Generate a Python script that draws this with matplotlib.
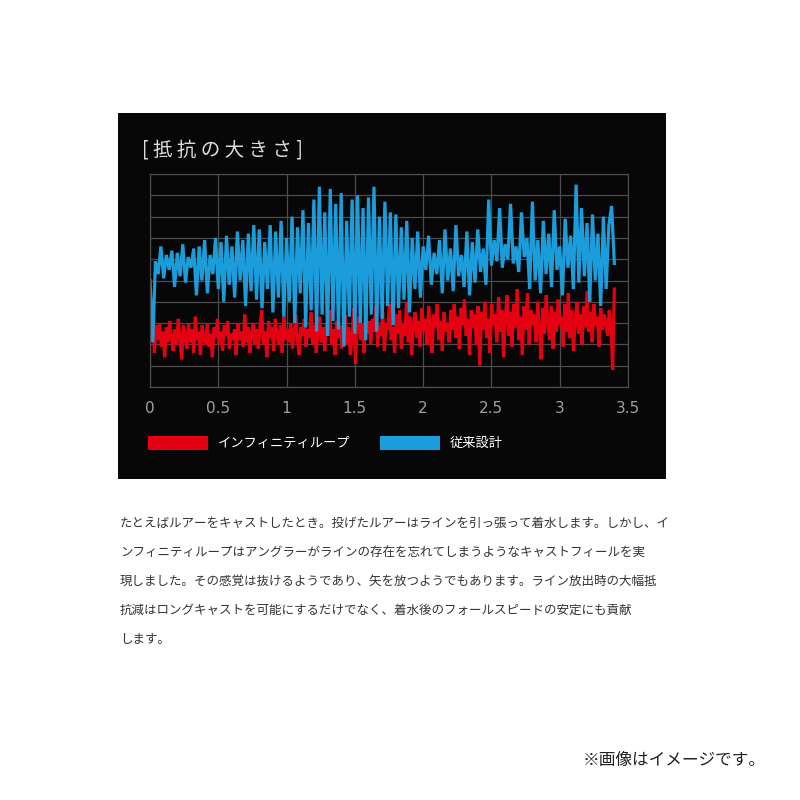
import matplotlib.pyplot as plt
import matplotlib.patches as mpatches
import numpy as np

plt.rcParams['font.family'] = ['Noto Sans CJK JP', 'DejaVu Sans']

# 従来設計 (blue), sampled every 0.02 from 0 to 3.4
blue = [
    5.0, 2.1, 5.9, 5.3, 6.6, 5.1, 6.2, 5.5, 6.4, 4.7,
    6.3, 5.2, 6.7, 4.9, 6.1, 5.6, 6.5, 4.3, 6.6, 5.0,
    6.9, 4.4, 6.2, 5.3, 7.0, 4.6, 6.8, 4.0, 7.1, 4.8,
    6.6, 4.2, 7.3, 5.0, 6.9, 3.8, 7.2, 4.5, 7.6, 4.1,
    7.4, 3.7, 6.8, 4.6, 7.6, 3.5, 7.3, 4.2, 7.8, 3.3,
    7.0, 4.0, 8.0, 3.0, 7.5, 4.4, 8.3, 2.8, 7.7, 3.6,
    8.8, 2.6, 9.4, 3.4, 8.2, 2.4, 9.3, 3.1, 8.6, 2.7,
    9.1, 1.9, 7.8, 3.3, 8.8, 2.5, 9.0, 3.0, 8.4, 2.2,
    8.9, 3.4, 9.4, 2.6, 8.0, 3.2, 8.7, 3.8, 8.2, 2.9,
    8.1, 3.7, 7.5, 4.1, 7.8, 3.5, 7.0, 4.6, 7.3, 4.2,
    6.6, 5.5, 7.1, 4.8, 6.3, 5.3, 6.9, 4.4, 7.4, 5.0,
    6.5, 4.5, 7.6, 5.2, 6.2, 4.7, 7.3, 4.3, 6.8, 4.9,
    7.4, 5.4, 6.5, 4.8, 8.8, 5.7, 6.9, 5.9, 8.4, 5.6,
    6.7, 6.0, 8.6, 5.8, 6.6, 5.4, 8.2, 6.1, 7.0, 4.6,
    8.7, 5.0, 6.9, 4.4, 7.8, 5.3, 7.2, 4.7, 8.3, 5.5,
    6.6, 4.3, 7.9, 5.6, 7.1, 4.6, 9.5, 4.9, 8.4, 5.2,
    7.7, 4.0, 8.1, 5.0, 7.2, 3.8, 8.0, 4.6, 7.6, 8.5,
    5.8,
]

# インフィニティループ (red), sampled from 0.02 to 3.4
red = [
    3.3, 1.6, 2.9, 2.2, 3.0, 1.9, 2.6, 1.4, 2.8, 2.1, 3.1, 2.3, 1.7, 2.7, 2.0, 3.2,
    2.2, 1.3, 2.9, 2.5, 1.8, 3.0, 2.1, 2.7, 1.6, 3.3, 2.2, 2.6, 1.5, 2.9, 2.3, 2.0,
    3.0, 1.9, 2.5, 1.4, 2.8, 2.3, 3.2, 2.0, 2.6, 1.7, 2.9, 2.4, 3.1, 1.8, 2.5, 2.2,
    2.7, 1.5, 3.0, 2.2, 2.6, 1.9, 3.4, 2.1, 2.8, 1.6, 2.5, 3.0, 2.0, 2.7, 1.8, 2.9,
    3.6, 2.0, 2.6, 1.4, 3.1, 2.3, 2.8, 1.7, 3.2, 2.4, 2.0, 2.9, 1.6, 3.3, 2.2, 2.7,
    2.1, 3.0, 1.8, 2.6, 3.4, 2.2, 1.5, 2.8, 2.4, 3.2, 1.9, 2.7, 2.3, 3.5, 2.0, 2.9,
    1.6, 2.6, 3.3, 2.1, 2.8, 1.7, 3.0, 2.4, 3.6, 2.0, 2.7, 1.5, 3.1, 2.3, 2.9, 1.8,
    2.6, 3.4, 2.0, 2.8, 1.5, 2.4, 3.7, 1.1, 2.9, 3.3, 2.2, 3.0, 1.6, 3.5, 2.5, 3.1,
    2.0, 3.2, 2.6, 3.8, 1.9, 2.9, 2.4, 3.5, 1.7, 3.0, 2.7, 3.9, 2.2, 2.8, 1.6, 3.4,
    2.5, 3.6, 1.8, 3.0, 2.4, 4.0, 2.1, 3.3, 1.5, 2.9, 3.5, 2.3, 3.1, 1.9, 3.7, 2.6,
    3.2, 2.0, 3.8, 2.5, 1.6, 3.4, 2.8, 3.9, 2.2, 3.1, 1.7, 3.5, 2.6, 3.0, 2.1, 3.6,
    2.7, 3.9, 2.3, 3.3, 1.8, 3.7, 2.9, 4.1, 2.4, 3.2, 1.5, 3.6, 2.8, 3.4, 2.0, 3.8,
    1.0, 3.5, 2.7, 4.0, 2.3, 3.2, 1.6, 3.9, 2.9, 3.4, 2.1, 4.2, 2.6, 3.6, 1.4, 3.3,
    4.3, 2.4, 3.5, 1.9, 3.9, 2.8, 4.6, 2.2, 3.3, 1.5, 3.8, 2.7, 4.4, 2.0, 3.6, 2.9,
    3.4, 2.1, 4.0, 2.7, 1.3, 3.7, 2.5, 4.3, 3.0, 2.2, 3.8, 1.8, 3.5, 2.6, 4.1, 2.9,
    3.3, 1.9, 3.9, 2.6, 4.4, 2.3, 3.6, 1.7, 3.1, 4.0, 2.5, 3.4, 2.0, 3.8, 2.8, 4.5,
    2.6, 3.5, 2.1, 3.9, 2.9, 3.3, 1.9, 3.7, 2.7, 3.4, 3.0, 2.4, 3.6, 2.9, 0.8, 4.6,
]

x_blue = np.linspace(0, 3.4, len(blue))
x_red = np.linspace(0.02, 3.4, len(red))

xticks = [0, 0.5, 1, 1.5, 2, 2.5, 3, 3.5]
xtick_labels = ['0', '0.5', '1', '1.5', '2', '2.5', '3', '3.5']

title = '[ 抵 抗 の 大 き さ ]'
legend_labels = ['インフィニティループ', '従来設計']
paragraph = [
    'たとえばルアーをキャストしたとき。投げたルアーはラインを引っ張って着水します。しかし、イ',
    'ンフィニティループはアングラーがラインの存在を忘れてしまうようなキャストフィールを実',
    '現しました。その感覚は抜けるようであり、矢を放つようでもあります。ライン放出時の大幅抵',
    '抗減はロングキャストを可能にするだけでなく、着水後のフォールスピードの安定にも貢献',
    'します。',
]
note = '※画像はイメージです。'

red_c = '#e50012'
blue_c = '#1b9ddb'

fig = plt.figure(figsize=(8, 8), dpi=100, facecolor='white')

# black panel
panel = fig.add_axes([0.1475, 0.40125, 0.685, 0.4575])
panel.set_facecolor('#070707')
panel.set_xticks([])
panel.set_yticks([])
for s in panel.spines.values():
    s.set_visible(False)

ax = fig.add_axes([0.1875, 0.51625, 0.5975, 0.26625])
ax.set_facecolor('#070707')
ax.plot(x_red, red, color=red_c, lw=2.3, solid_joinstyle='miter')
ax.plot(x_blue, blue, color=blue_c, lw=2.3, solid_joinstyle='miter')
ax.set_xlim(0, 3.5)
ax.set_ylim(0, 10)
ax.set_xticks(xticks)
ax.set_xticklabels(xtick_labels, family=['DejaVu Sans'])
ax.set_yticks(np.arange(0, 11, 1))
ax.tick_params(axis='x', length=0, pad=10, colors='#a0a0a0', labelsize=11)
ax.tick_params(axis='y', length=0, labelleft=False)
ax.grid(True, color='#4c4c4c', lw=0.9)
for s in ax.spines.values():
    s.set_color('#4c4c4c')
    s.set_linewidth(0.9)

fig.text(0.178, 0.8125, title, color='#dcdcdc', fontsize=14, va='center', ha='left')

# legend
fig.patches.append(mpatches.Rectangle((0.185, 0.4375), 0.075, 0.0175, transform=fig.transFigure,
                                      facecolor=red_c, edgecolor='none'))
fig.text(0.2725, 0.446, legend_labels[0], color='white', fontsize=9.5, va='center', ha='left')
fig.patches.append(mpatches.Rectangle((0.475, 0.4375), 0.075, 0.0175, transform=fig.transFigure,
                                      facecolor=blue_c, edgecolor='none'))
fig.text(0.5625, 0.446, legend_labels[1], color='white', fontsize=9.5, va='center', ha='left')

ys = [523, 552, 581, 610, 640]
for line, y in zip(paragraph, ys):
    fig.text(120 / 800, 1 - y / 800, line, color='#333333', fontsize=9, va='center', ha='left')

fig.text(583 / 800, 1 - 760 / 800, note, color='#222222', fontsize=12, va='center', ha='left')

plt.savefig('out.png', dpi=100, facecolor='white')
